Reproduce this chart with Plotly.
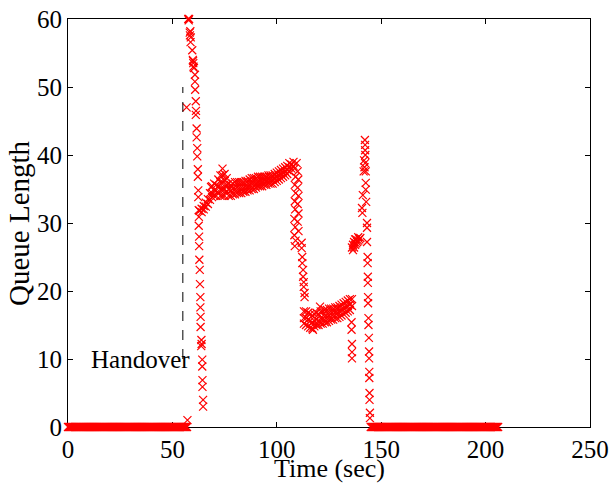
import plotly.graph_objects as go

# ---------------- data ----------------
# idle period before the handover: queue empty (samples every 0.5 s)
zero_t_before = [0, 0.5, 1, 1.5, 2, 2.5, 3, 3.5, 4, 4.5, 5, 5.5, 6, 6.5, 7, 7.5, 8, 8.5, 9, 9.5,
                 10, 10.5, 11, 11.5, 12, 12.5, 13, 13.5, 14, 14.5, 15, 15.5, 16, 16.5, 17, 17.5,
                 18, 18.5, 19, 19.5, 20, 20.5, 21, 21.5, 22, 22.5, 23, 23.5, 24, 24.5, 25, 25.5,
                 26, 26.5, 27, 27.5, 28, 28.5, 29, 29.5, 30, 30.5, 31, 31.5, 32, 32.5, 33, 33.5,
                 34, 34.5, 35, 35.5, 36, 36.5, 37, 37.5, 38, 38.5, 39, 39.5, 40, 40.5, 41, 41.5,
                 42, 42.5, 43, 43.5, 44, 44.5, 45, 45.5, 46, 46.5, 47, 47.5, 48, 48.5, 49, 49.5,
                 50, 50.5, 51, 51.5, 52, 52.5, 53, 53.5, 54, 54.5, 55, 55.5, 56, 56.5, 57]

# burst right after the handover and its decay
spike_t = [56.8, 57.2, 57.6, 57.8, 58.0, 58.3, 58.4, 58.6, 58.8, 58.7,
           59.5, 59.8, 60.0, 60.1, 59.9, 60.3, 60.8, 60.8, 60.9,
           61.2, 61.3, 61.2, 61.6, 61.6, 61.9, 61.9, 62.2, 62.2, 62.4, 62.4,
           62.6, 62.7, 62.6, 62.8, 62.8, 62.9, 63.1, 63.2, 63.4, 63.4, 63.5, 63.5,
           63.9, 63.8, 64.0, 64.3, 64.3, 64.4, 64.4, 64.7, 64.7]
spike_q = [47.0, 1.0, 60.0, 59.8, 60.0, 58.0, 57.6, 58.2, 57.3, 56.6,
           55.4, 54.0, 53.5, 53.0, 53.8, 52.8, 51.8, 50.8, 49.6,
           47.9, 46.5, 45.9, 43.9, 42.6, 41.0, 39.8, 37.9, 36.8, 34.8, 33.8,
           31.9, 30.9, 29.6, 28.0, 26.6, 24.6, 23.1, 21.0, 19.1, 17.6, 16.2, 14.7,
           12.8, 11.9, 12.2, 9.9, 8.9, 6.9, 5.9, 4.0, 3.0]

# first plateau (~35 packets)
plateau_t = [63, 64, 64, 65, 65, 66, 66, 67, 67, 68, 68, 68.5,
             69, 69, 69, 70, 70, 70, 71, 71, 71, 72, 72, 72,
             73, 73, 73, 73, 74, 74, 74, 74, 74, 75, 75, 75, 75,
             76, 76, 76, 77, 77, 77, 78, 78, 78, 79, 79, 79, 80, 80, 80,
             81, 81, 81, 82, 82, 82, 83, 83, 83, 84, 84, 84, 85, 85, 85,
             86, 86, 86, 87, 87, 87, 88, 88, 88, 89, 89, 89, 90, 90, 90,
             91, 91, 91, 92, 92, 92, 93, 93, 93, 94, 94, 94, 95, 95, 95,
             96, 96, 96, 97, 97, 97, 98, 98, 98, 99, 99, 99, 100, 100, 100,
             101, 101, 101, 102, 102, 102, 103, 103, 103, 104, 104, 104,
             105, 105, 105, 106, 106, 106, 107, 107, 108]
plateau_q = [31.8, 32.1, 31.6, 32.5, 32.0, 33.0, 32.4, 33.5, 32.8, 34.4, 33.4, 35.3,
             35.4, 34.4, 33.8, 35.8, 34.8, 34.0, 35.6, 34.8, 34.0, 36.4, 35.4, 34.4,
             37.0, 36.0, 35.0, 34.0, 38.0, 37.0, 36.0, 35.0, 34.0, 37.2, 36.2, 35.0, 34.0,
             36.6, 35.6, 34.6, 35.8, 35.0, 34.0, 35.6, 34.8, 34.0, 35.8, 35.0, 34.2, 36.0, 35.0, 34.2,
             36.0, 35.2, 34.4, 36.0, 35.2, 34.4, 36.0, 35.2, 34.4, 36.0, 35.2, 34.6, 36.2, 35.4, 34.6,
             36.2, 35.4, 34.8, 36.4, 35.6, 34.8, 36.6, 35.8, 35.0, 36.6, 35.8, 35.0, 36.6, 35.8, 35.2,
             36.8, 36.0, 35.4, 36.8, 36.0, 35.4, 36.8, 36.0, 35.4, 36.8, 36.2, 35.6, 36.8, 36.2, 35.6,
             37.0, 36.4, 35.8, 37.0, 36.4, 35.8, 37.0, 36.4, 35.8, 37.2, 36.6, 36.0, 37.4, 36.8, 36.2,
             37.6, 37.0, 36.4, 37.8, 37.2, 36.6, 38.0, 37.4, 36.8, 38.2, 37.6, 37.0,
             38.4, 37.8, 37.2, 38.8, 38.2, 37.6, 38.6, 38.0, 38.4]

# drop to the second level
drop_t = [108.0, 109.5, 108.5, 110.0, 109.0, 110.3, 108.6, 110.0, 109.0, 110.4, 108.6,
          110.0, 108.8, 110.4, 108.4, 110.0, 108.8, 110.4, 108.4, 109.0, 108.6,
          111.9, 111.9, 112.2, 112.2, 112.6, 112.6, 112.9, 112.9, 113.3, 113.3]
drop_q = [39.0, 38.8, 38.0, 37.6, 36.8, 36.4, 35.6, 35.2, 34.4, 34.0, 33.2,
          32.8, 32.0, 31.4, 30.6, 30.2, 29.4, 28.8, 28.2, 27.4, 26.6,
          27.1, 26.3, 25.0, 24.1, 23.1, 22.1, 21.3, 20.6, 19.7, 19.1]

# second plateau (~16 packets)
low_t = [113, 113, 113, 114, 114, 114, 115, 115, 115, 116, 116, 116, 117, 117, 117, 117.3,
         118, 118, 118, 119, 119, 119, 120, 120, 120, 120.7, 121, 121, 121, 122, 122, 122,
         123, 123, 123, 124, 124, 124, 125, 125, 125, 126, 126, 126, 127, 127, 127,
         128, 128, 128, 129, 129, 129, 130, 130, 130, 131, 131, 131, 132, 132, 132,
         133, 133, 133, 134, 134, 134, 135, 135, 135, 136, 136,
         135.8, 135.8, 136.0, 136.0, 136.0]
low_q = [17.0, 16.0, 15.2, 17.0, 16.0, 15.0, 16.8, 15.8, 14.8, 16.6, 15.6, 14.6, 16.4, 15.4, 14.5, 14.3,
         16.6, 15.6, 14.8, 16.8, 15.8, 15.0, 16.6, 15.6, 15.0, 17.7, 17.0, 16.0, 15.2, 17.0, 16.0, 15.2,
         17.2, 16.2, 15.4, 17.2, 16.2, 15.4, 17.4, 16.4, 15.6, 17.4, 16.6, 15.8, 17.4, 16.6, 15.8,
         17.6, 16.8, 16.0, 17.6, 16.8, 16.0, 17.8, 17.0, 16.2, 18.0, 17.2, 16.4, 18.2, 17.4, 16.6,
         18.4, 17.6, 16.8, 18.6, 17.8, 17.0, 18.8, 18.0, 17.2, 18.8, 17.8,
         15.4, 14.3, 12.2, 11.0, 10.1]

# short cluster near 27 packets
bump_t = [136.0, 136.5, 137.0, 137.0, 137.5, 138.0, 138.0, 138.5, 139.0, 139.0, 139.5, 140.0, 136.5, 137.5]
bump_q = [26.4, 26.8, 26.4, 27.2, 26.8, 27.0, 27.6, 27.2, 27.4, 27.9, 27.6, 27.8, 26.0, 27.6]

# final burst and drain
drain_t = [142.2, 142.3, 142.3, 142.4, 141.8, 142.3, 142.0, 142.6, 141.6, 142.6, 142.6, 141.2,
           142.8, 140.8, 141.0, 143.2, 143.2, 143.2, 143.5, 143.5, 143.6, 143.6, 143.7, 143.7,
           143.9, 143.9, 144.1, 144.2, 144.2, 144.3, 144.3, 144.4, 144.4, 144.6, 144.6]
drain_q = [42.2, 41.5, 40.7, 40.0, 39.2, 38.8, 38.2, 37.6, 37.6, 35.9, 34.9, 34.1,
           33.1, 32.2, 31.5, 30.0, 29.3, 27.2, 25.0, 24.1, 22.1, 21.2, 19.1, 18.2,
           16.0, 15.0, 13.1, 11.1, 10.1, 8.1, 7.2, 5.0, 4.0, 2.1, 1.3]

# idle period at the end: queue empty (samples every 0.5 s)
zero_t_after = [145, 145.5, 146, 146.5, 147, 147.5, 148, 148.5, 149, 149.5, 150, 150.5,
                151, 151.5, 152, 152.5, 153, 153.5, 154, 154.5, 155, 155.5, 156, 156.5,
                157, 157.5, 158, 158.5, 159, 159.5, 160, 160.5, 161, 161.5, 162, 162.5,
                163, 163.5, 164, 164.5, 165, 165.5, 166, 166.5, 167, 167.5, 168, 168.5,
                169, 169.5, 170, 170.5, 171, 171.5, 172, 172.5, 173, 173.5, 174, 174.5,
                175, 175.5, 176, 176.5, 177, 177.5, 178, 178.5, 179, 179.5, 180, 180.5,
                181, 181.5, 182, 182.5, 183, 183.5, 184, 184.5, 185, 185.5, 186, 186.5,
                187, 187.5, 188, 188.5, 189, 189.5, 190, 190.5, 191, 191.5, 192, 192.5,
                193, 193.5, 194, 194.5, 195, 195.5, 196, 196.5, 197, 197.5, 198, 198.5,
                199, 199.5, 200, 200.5, 201, 201.5, 202, 202.5, 203, 203.5, 204, 204.5,
                205, 205.5, 206]

handover_x = [55, 55]
handover_y = [10, 50]
handover_label = "Handover"

x_title = "Time (sec)"
y_title = "Queue Length"
x_ticks = [0, 50, 100, 150, 200, 250]
y_ticks = [0, 10, 20, 30, 40, 50, 60]

# ---------------- assemble ----------------
t_all = (zero_t_before + spike_t + plateau_t + drop_t + low_t + bump_t + drain_t + zero_t_after)
q_all = ([0] * len(zero_t_before) + spike_q + plateau_q + drop_q + low_q + bump_q + drain_q
         + [0] * len(zero_t_after))

FONT = "Liberation Serif, Times New Roman, serif"

fig = go.Figure()
fig.add_trace(go.Scatter(
    x=t_all, y=q_all, mode="markers",
    marker=dict(symbol="x-thin-open", size=8, color="#ff0000",
                line=dict(color="#ff0000", width=1.2)),
    cliponaxis=False, showlegend=False, hoverinfo="skip"))
fig.add_trace(go.Scatter(
    x=handover_x, y=handover_y, mode="lines",
    line=dict(color="black", width=1, dash="10px,9px"),
    showlegend=False, hoverinfo="skip"))

fig.add_annotation(x=10, y=10, xref="x", yref="y", text=handover_label,
                   showarrow=False, xanchor="left", yanchor="middle",
                   font=dict(family=FONT, size=25, color="black"))

# axis titles placed as text relative to the plotting area
fig.add_annotation(x=0.5, y=0, xref="paper", yref="paper", text=x_title,
                   showarrow=False, xanchor="center", yanchor="top", yshift=-26,
                   borderpad=0,
                   font=dict(family=FONT, size=26, color="black"))
fig.add_annotation(x=0, y=0.5, xref="paper", yref="paper", text=y_title, textangle=-90,
                   showarrow=False, xanchor="center", yanchor="middle", xshift=-49,
                   font=dict(family=FONT, size=29, color="black"))

axis_common = dict(showline=True, linecolor="black", linewidth=1, mirror="ticks",
                   ticks="inside", ticklen=5, tickcolor="black", tickwidth=1,
                   showgrid=False, zeroline=False, layer="below traces", automargin=False,
                   tickfont=dict(family=FONT, size=25, color="black"))

fig.update_xaxes(range=[0, 250], tickvals=x_ticks, ticktext=[str(v) for v in x_ticks],
                 ticklabelstandoff=0, **axis_common)
fig.update_yaxes(range=[0, 60], tickvals=y_ticks, ticktext=[str(v) for v in y_ticks],
                 ticklabelstandoff=0, **axis_common)

fig.update_layout(width=613, height=485, margin=dict(l=68, r=23, t=19, b=58),
                  plot_bgcolor="white", paper_bgcolor="white")

fig.write_html("out.html")
